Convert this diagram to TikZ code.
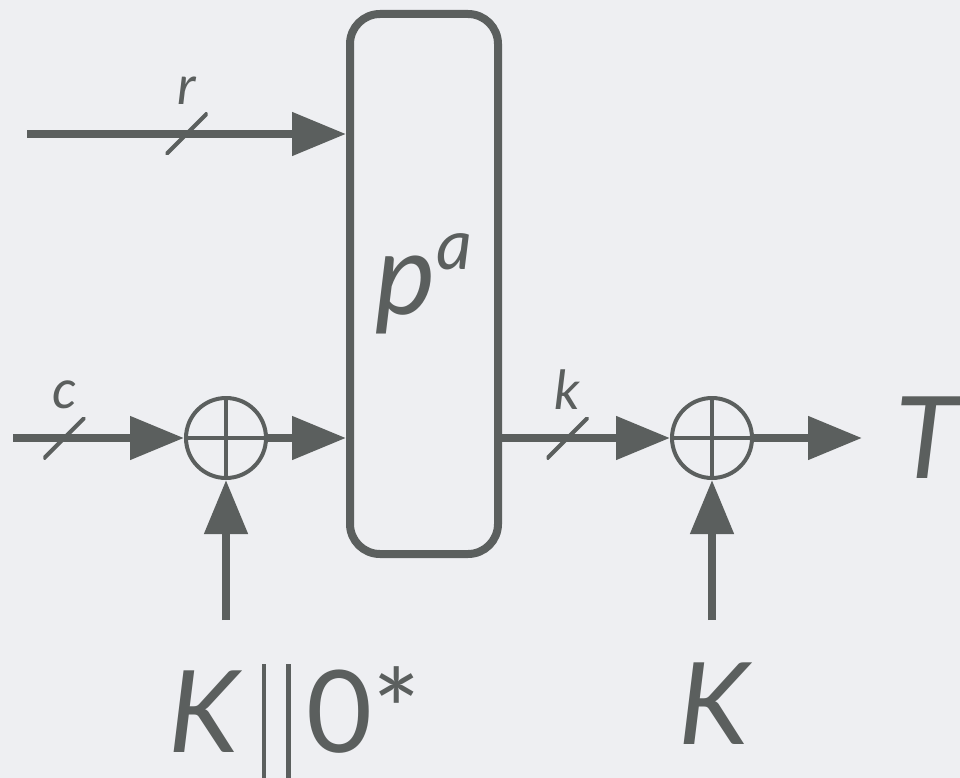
\documentclass[tikz,border=0pt]{standalone}
\usepackage{xcolor}
\usepackage{fontspec}
\setmainfont{Lato}
\usepackage{tikz}
\usetikzlibrary{arrows.meta, positioning, calc}
\definecolor{spongegray}{HTML}{5B5F5E}
\definecolor{spongebg}{HTML}{EEEFF2}

\begin{document}
\begin{tikzpicture}[x=1pt,y=-1pt,
  wire/.style={draw=spongegray,line width=8pt,-{Triangle[length=54pt,width=42pt]}},
  perm/.style={draw=spongegray,line width=8pt,rounded corners=30pt,
               minimum width=148pt,minimum height=540pt,inner sep=0pt},
  xorop/.style={circle,draw=spongegray,line width=4pt,minimum size=80pt,inner sep=0pt,
                path picture={\draw[spongegray,line width=4pt]
                  (path picture bounding box.north) -- (path picture bounding box.south)
                  (path picture bounding box.west) -- (path picture bounding box.east);}},
  slashmark/.style={minimum size=42pt,inner sep=0pt,label distance=12pt,
                path picture={\draw[spongegray,line width=4pt,arrows=-,shorten >=0pt,shorten <=0pt]
                  (path picture bounding box.south west) -- (path picture bounding box.north east);}},
  bigtext/.style={text=spongegray,inner sep=0pt,font=\fontsize{114}{120}\selectfont\itshape},
  smalltext/.style={text=spongegray,inner sep=0pt,font=\fontsize{54}{58}\selectfont\itshape}]
\fill[spongebg] (0,0) rectangle (960,778);
\useasboundingbox (0,0) rectangle (960,778);

% permutation and the two xor gates
\node[perm,bigtext] (pa) at (424,284) {p\raisebox{45pt}{\fontsize{70}{72}\selectfont a}};
\node[xorop] (xa) at (226,438) {};
\node[xorop] (xb) at (712,438) {};
\node[bigtext,anchor=west] (tag) at (895,438) {T};

% inputs
\coordinate (rin) at (27,134);
\coordinate (cin) at (13,438);
\coordinate (kin) at (226,620);
\coordinate (kout) at (712,620);

\draw[wire] (rin) -- node[slashmark,pos=.5,label={[smalltext]above:r}] (rbus) {} (rin -| pa.west);
\draw[wire] (cin) -- node[slashmark,pos=.3,label={[smalltext]above:c}] (cbus) {} (xa);
\draw[wire] (xa) -- (xa -| pa.west);
\draw[wire] (pa.east |- xb) -- node[slashmark,pos=.39,label={[smalltext]above:k}] (kbus) {} (xb);
\draw[wire,shorten >=33pt] (xb) -- (tag);
\draw[wire] (kin) -- (xa);
\draw[wire] (kout) -- (xb);

% key labels
\node[bigtext,anchor=base west] (keypad) at (168,752)
  {K\hspace{23pt}\rule[-40pt]{4.5pt}{128pt}\hspace{20pt}\rule[-40pt]{4.5pt}{128pt}\hspace{16pt}\upshape 0*};
\node[bigtext,anchor=base] (key) at (714,744) {K};
\end{tikzpicture}
\end{document}
